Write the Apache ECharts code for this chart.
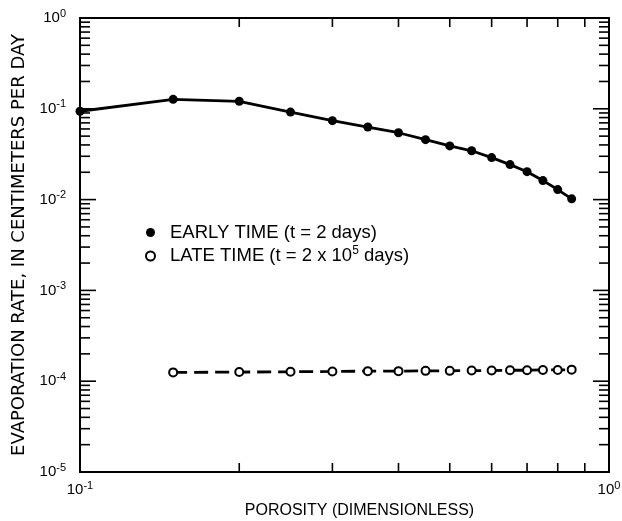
<!DOCTYPE html>
<html><head><meta charset="utf-8">
<script src="https://cdn.jsdelivr.net/npm/echarts@6/dist/echarts.min.js"></script>
<style>html,body{margin:0;padding:0;background:#fff}#c{width:622px;height:521px}</style>
</head><body><div id="c"></div>
<script>
// ---- data ----
const porosityEarly = [0.1, 0.15, 0.2, 0.25, 0.3, 0.35, 0.4, 0.45, 0.5, 0.55, 0.6, 0.65, 0.7, 0.75, 0.8, 0.85];
const rateEarly = [0.094, 0.127, 0.121, 0.092, 0.074, 0.063, 0.0545, 0.0457, 0.039, 0.0345, 0.029, 0.0243, 0.0203, 0.0162, 0.0129, 0.0102];
const porosityLate = [0.15, 0.2, 0.25, 0.3, 0.35, 0.4, 0.45, 0.5, 0.55, 0.6, 0.65, 0.7, 0.75, 0.8, 0.85];
const rateLate = [1.25e-4, 1.26e-4, 1.27e-4, 1.28e-4, 1.29e-4, 1.29e-4, 1.3e-4, 1.3e-4, 1.31e-4, 1.31e-4, 1.32e-4, 1.32e-4, 1.33e-4, 1.33e-4, 1.34e-4];
const xRange = [0.1, 1];
const yRange = [1e-5, 1];
const seriesNames = ['EARLY TIME (t = 2 days)', 'LATE TIME (t = 2 x 10^5 days)'];
const xTitle = 'POROSITY (DIMENSIONLESS)';
const yTitle = 'EVAPORATION RATE, IN CENTIMETERS PER DAY';

const FONT = '"Liberation Sans", Arial, sans-serif';
const powLabel = v => '{b|10}{s|' + Math.round(Math.log10(v)) + '}';
const labelRich = {
  b: { fontFamily: FONT, fontSize: 15, color: '#000' },
  s: { fontFamily: FONT, fontSize: 11, color: '#000', padding: [0, 0, 9, 0] }
};

const chart = echarts.init(document.getElementById('c'), null, { renderer: 'canvas' });
const option = {
  animation: false,
  backgroundColor: '#fff',
  grid: { left: 80, right: 13, top: 18, bottom: 49, containLabel: false, outerBoundsMode: 'none',
    show: true, borderColor: '#000', borderWidth: 2, backgroundColor: 'transparent' },
  xAxis: {
    type: 'log', logBase: 10, min: xRange[0], max: xRange[1],
    name: xTitle, nameLocation: 'middle', nameGap: 31,
    nameTextStyle: { fontFamily: FONT, fontSize: 16, color: '#000', padding: [0, 0, 0, 30] },
    axisLine: { show: true, lineStyle: { color: '#000', width: 2 } },
    axisTick: { show: false },
    splitLine: { show: false },
    axisLabel: { formatter: powLabel, rich: labelRich, margin: 8, showMinLabel: true, showMaxLabel: true }
  },
  yAxis: {
    type: 'log', logBase: 10, min: yRange[0], max: yRange[1],
    name: yTitle, nameLocation: 'middle', nameGap: 41,
    nameTextStyle: { fontFamily: '"DejaVu Sans", sans-serif', fontSize: 18, color: '#000' },
    axisLine: { show: true, lineStyle: { color: '#000', width: 2 } },
    axisTick: { show: false },
    splitLine: { show: false },
    axisLabel: { formatter: powLabel, rich: labelRich, margin: 14, showMinLabel: true, showMaxLabel: true }
  },
  legend: {
    orient: 'vertical', left: 140, top: 218, itemWidth: 9, itemHeight: 9, itemGap: 3,
    data: [
      { name: seriesNames[0], icon: 'circle' },
      { name: seriesNames[1], icon: 'emptyCircle' }
    ],
    formatter: name => {
      if (name.indexOf('^') >= 0) {
        const parts = name.split('^');
        const sup = parts[1].split(' ')[0];
        const rest = parts[1].slice(sup.length);
        return '{a|' + parts[0] + '}{s|' + sup + '}{c|' + rest + '}';
      }
      return '{a|' + name + '}';
    },
    textStyle: {
      fontFamily: FONT, fontSize: 18.5, color: '#000',
      rich: {
        a: { fontFamily: FONT, fontSize: 18.5, lineHeight: 18, color: '#000', padding: [0, 0, 0, 10] },
        c: { fontFamily: FONT, fontSize: 18.5, lineHeight: 18, color: '#000' },
        s: { fontFamily: FONT, fontSize: 12, lineHeight: 18, color: '#000', padding: [0, 0, 10, 0] }
      }
    }
  },
  series: [
    {
      name: seriesNames[0], type: 'line',
      data: porosityEarly.map((x, i) => [x, rateEarly[i]]),
      symbol: 'circle', symbolSize: 9,
      itemStyle: { color: '#000' },
      lineStyle: { color: '#000', width: 2.8 },
      z: 5
    },
    {
      name: seriesNames[1], type: 'line',
      data: porosityLate.map((x, i) => [x, rateLate[i]]),
      symbol: 'emptyCircle', symbolSize: 8,
      itemStyle: { color: '#000', borderColor: '#000', borderWidth: 1.8 },
      lineStyle: { color: '#000', width: 2.8, type: [14, 7] },
      z: 5
    }
  ]
};
chart.setOption(option);

// ---- axis tick marks (log minor ticks), placed via the chart's own scales ----
function px(x, y) { return chart.convertToPixel({ xAxisIndex: 0, yAxisIndex: 0 }, [x, y]); }
const g = [];
const ln = (x1, y1, x2, y2) => g.push({ type: 'line', silent: true, z: 10,
  shape: { x1, y1, x2, y2 }, style: { stroke: '#000', lineWidth: 1.6 } });
const xl = px(xRange[0], 1)[0], xr = px(xRange[1], 1)[0];
const yb = px(1, yRange[0])[1], yt = px(1, yRange[1])[1];
for (let d = -5; d <= -1; d++) {
  for (let k = 1; k <= 9; k++) {
    const v = k * Math.pow(10, d);
    if (v <= yRange[0] || v >= yRange[1]) continue;
    const py = px(1, v)[1];
    const len = k === 1 ? 16 : 10;
    ln(xl, py, xl + len, py);
    ln(xr, py, xr - len, py);
  }
}
for (let k = 2; k <= 9; k++) {
  const pxx = px(k * 0.1, 1e-3)[0];
  ln(pxx, yb, pxx, yb - 9);
  ln(pxx, yt, pxx, yt + 9);
}
chart.setOption({ graphic: g });
</script></body></html>
